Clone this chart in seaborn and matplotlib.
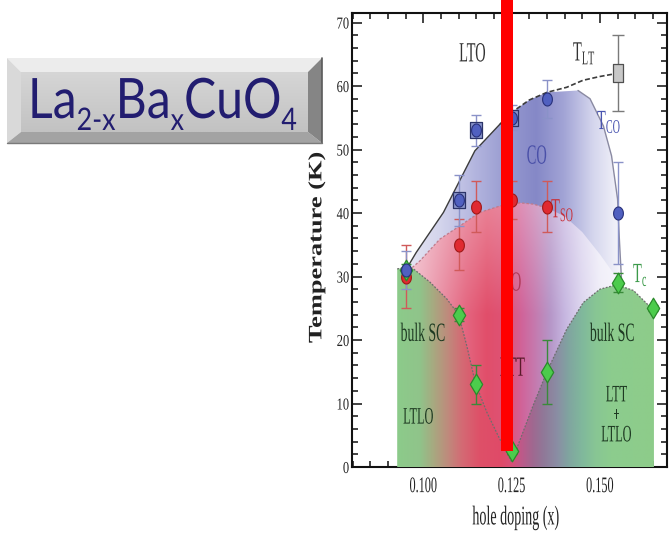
import numpy as np
import matplotlib
matplotlib.use("Agg")
import matplotlib.pyplot as plt
import seaborn as sns
from matplotlib.colors import to_rgb
from matplotlib.patches import Polygon, Rectangle
from matplotlib.path import Path
from matplotlib.transforms import Affine2D
from matplotlib.patheffects import AbstractPathEffect
from matplotlib.ticker import MultipleLocator, FixedLocator

# ---------------- transition temperatures (K) vs hole doping x ----------------
tco_x = [0.095, 0.110, 0.115, 0.125, 0.135, 0.155]
tco_T = [31, 42, 53, 55, 58, 40]
tco_err = [3, 4, 2.5, 2, 3, 8]

tlt_sq_x = [0.110, 0.115, 0.125]
tlt_sq_T = [42, 53, 55]

tlt_x = [0.155]
tlt_T = [62]
tlt_err = [6]

tso_x = [0.095, 0.110, 0.115, 0.125, 0.135]
tso_T = [30, 35, 41, 42, 41]
tso_err = [5, 4, 4, 3, 4]

tc_x = [0.095, 0.110, 0.115, 0.125, 0.135, 0.155, 0.165]
tc_T = [31, 24, 13, 2.5, 15, 29, 25]
tc_err = [1, 1, 3, 0.5, 5, 1.5, 0.5]

# ---------------- phase boundaries ----------------
lt_line_x = [0.095, 0.098, 0.1057, 0.1146, 0.1217, 0.1254, 0.130, 0.135, 0.1406, 0.1452, 0.150, 0.155]
lt_line_y = [31.0, 33.8, 40.1, 49.8, 54.0, 56.0, 57.8, 59.0, 59.8, 60.9, 61.5, 62.0]

co_edge_x = [0.135, 0.1438, 0.1472, 0.151, 0.1533, 0.155, 0.1555, 0.1562]
co_edge_y = [59.3, 59.3, 58.0, 53.7, 49.0, 42.2, 36.0, 28.6]

so_top_x = [0.095, 0.0991, 0.1047, 0.1104, 0.116, 0.1217, 0.1274, 0.1311, 0.135, 0.140, 0.145, 0.150, 0.1545, 0.1562]
so_top_y = [30.5, 32.5, 35.9, 38.0, 40.1, 41.1, 41.6, 41.4, 40.8, 39.5, 37.0, 33.5, 30.0, 28.6]

sc_left_x = [0.0926, 0.0948, 0.0972, 0.1019, 0.1066, 0.110, 0.1123, 0.1148, 0.118, 0.1212, 0.125]
sc_left_y = [31.2, 31.4, 31.2, 29.1, 26.5, 24.0, 19.1, 13.1, 8.6, 4.9, 0.8]
sc_right_x = [0.125, 0.1311, 0.135, 0.1406, 0.1453, 0.150, 0.1548, 0.1595, 0.1648, 0.1653]
sc_right_y = [0.8, 9.7, 15.0, 21.7, 25.9, 28.0, 28.7, 27.8, 24.9, 24.5]

x_ticks = [0.100, 0.125, 0.150]
x_tick_labels = ["0.100", "0.125", "0.150"]

X0, X1 = 0.0798, 0.1690
Y0, Y1 = 0.0, 71.5

# ---------------- style ----------------
sns.set_style("ticks")
plt.rcParams["font.family"] = ["Liberation Serif", "DejaVu Serif"]
plt.rcParams["mathtext.fontset"] = "custom"
plt.rcParams["mathtext.rm"] = "Liberation Serif"
plt.rcParams["mathtext.it"] = "Liberation Serif:italic"
plt.rcParams["mathtext.bf"] = "Liberation Serif:bold"


class Squeeze(AbstractPathEffect):
    """Render text with narrower glyphs (horizontal scale about an anchor)."""

    def __init__(self, sx, anchor="center", x0=None):
        super().__init__()
        self.sx = sx
        self.anchor = anchor
        self.x0 = x0

    def draw_path(self, renderer, gc, tpath, affine, rgbFace=None):
        if self.x0 is not None:
            cx = self.x0
        else:
            ext = tpath.get_extents(affine)
            cx = {"left": ext.x0, "right": ext.x1}.get(self.anchor, 0.5 * (ext.x0 + ext.x1))
        tr = affine + Affine2D().translate(-cx, 0).scale(self.sx, 1.0).translate(cx, 0)
        renderer.draw_path(gc, tpath, tr, rgbFace)


fig = plt.figure(figsize=(6.7, 5.38), dpi=100)
ax = fig.add_axes([352 / 670, 71 / 538, 315 / 670, 454 / 538])


def shaded_region(xs_poly, ys_poly, stops, z, fade=None):
    gx = np.linspace(X0, X1, 700)
    gy = np.linspace(Y0, Y1, 300)
    px = [p for p, _ in stops]
    cols = np.array([to_rgb(c) for _, c in stops])
    row = np.stack([np.interp(gx, px, cols[:, k]) for k in range(3)], axis=-1)
    img = np.repeat(row[None, :, :], len(gy), axis=0)
    if fade is not None:
        w = fade(gy)[:, None, None]
        img = img * (1 - w) + w
    im = ax.imshow(img, extent=[X0, X1, Y0, Y1], origin="lower", aspect="auto",
                   interpolation="bilinear", zorder=z)
    poly = Polygon(np.column_stack([xs_poly, ys_poly]), closed=True,
                   facecolor="none", edgecolor="none", transform=ax.transData)
    ax.add_patch(poly)
    im.set_clip_path(poly)


# charge-order region
co_poly_x = lt_line_x[:8] + co_edge_x[1:] + [0.1562, 0.095]
co_poly_y = lt_line_y[:8] + co_edge_y[1:] + [0.0, 0.0]
shaded_region(co_poly_x, co_poly_y,
              [(0.095, "#e6e6f3"), (0.105, "#d3d4ec"), (0.115, "#b2b4de"), (0.125, "#9497ce"),
               (0.132, "#8588c7"), (0.140, "#a3a5d6"), (0.148, "#d4d5ed"), (0.156, "#f6f6fb")], 1)

# spin-order region
so_poly_x = so_top_x + [0.1562, 0.095]
so_poly_y = so_top_y + [0.0, 0.0]
shaded_region(so_poly_x, so_poly_y,
              [(0.093, "#f2cdd6"), (0.100, "#eeaabb"), (0.106, "#e8889e"), (0.112, "#e46680"),
               (0.118, "#e14e6a"), (0.124, "#dd5478"), (0.128, "#d0649a"), (0.132, "#c47cb0"),
               (0.136, "#b696c8"), (0.140, "#c6b6e0"), (0.145, "#ddd6ef"), (0.150, "#efedf8"),
               (0.157, "#f8f8fc")], 2,
              fade=lambda y: 0.3 * np.clip((y - 24) / 18, 0, 1))

# superconducting domes
sc_poly_x = [0.0926] + sc_left_x + sc_right_x[1:] + [0.1653]
sc_poly_y = [0.0] + sc_left_y + sc_right_y[1:] + [0.0]
shaded_region(sc_poly_x, sc_poly_y,
              [(0.0926, "#8ccb8a"), (0.099, "#90c48a"), (0.103, "#a8a880"), (0.107, "#bf8a7c"),
               (0.111, "#d46a74"), (0.116, "#de5068"), (0.122, "#e04a68"), (0.125, "#d85078"),
               (0.128, "#bc5a8a"), (0.131, "#a06890"), (0.134, "#907898"), (0.138, "#8a8ea4"),
               (0.141, "#80a4a0"), (0.145, "#80b89c"), (0.149, "#88c694"), (0.153, "#8ccc8e"),
               (0.166, "#8ecc8a")], 3)

# boundary lines
ax.plot(lt_line_x[:5], lt_line_y[:5], color="#3c3c3c", lw=1.0, zorder=4)
ax.plot(lt_line_x[4:], lt_line_y[4:], color="#3c3c3c", lw=1.2, ls=(0, (3, 1.5)), zorder=4)
ax.plot(co_edge_x[1:], co_edge_y[1:], color="#8a8aa2", lw=1.0, zorder=4)
ax.plot(so_top_x[:9], so_top_y[:9], color="#c07a8a", lw=0.9, ls=(0, (2, 1.5)), zorder=4)
ax.plot(sc_left_x, sc_left_y, color="#6e6e6e", lw=0.9, ls=(0, (1.5, 1.2)), zorder=4)
ax.plot(sc_right_x, sc_right_y, color="#6e6e6e", lw=0.9, ls=(0, (1.5, 1.2)), zorder=4)

# error bars
ax.errorbar(tso_x, tso_T, yerr=tso_err, fmt="none", ecolor="#d05a5a", elinewidth=1.0, capsize=3.5, zorder=5)
ax.errorbar(tco_x, tco_T, yerr=tco_err, fmt="none", ecolor="#8a92c8", elinewidth=1.0, capsize=3.5, zorder=5)
ax.errorbar(tc_x, tc_T, yerr=tc_err, fmt="none", ecolor="#3a8a3a", elinewidth=1.0, capsize=3.5, zorder=5)
ax.errorbar(tlt_x, tlt_T, yerr=tlt_err, fmt="none", ecolor="#7a7a7a", elinewidth=1.0, capsize=4, zorder=5)

# markers (slightly tall shapes)
theta = np.linspace(0, 2 * np.pi, 41)
ellipse = Path(np.column_stack([np.cos(theta), 1.33 * np.sin(theta)]), closed=True)
tall_sq = Path([(-1, -1.45), (1, -1.45), (1, 1.45), (-1, 1.45), (-1, -1.45)], closed=True)
tall_box = Path([(-1, -1.8), (1, -1.8), (1, 1.8), (-1, 1.8), (-1, -1.8)], closed=True)

sns.scatterplot(x=tlt_sq_x, y=tlt_sq_T, marker=tall_sq, s=135, color="#8a96cc",
                edgecolor="#2c3468", linewidth=0.9, zorder=6, ax=ax, legend=False)
sns.scatterplot(x=tlt_x, y=tlt_T, marker=tall_box, s=180, color="#c8c8c8",
                edgecolor="#505050", linewidth=0.9, zorder=6, ax=ax, legend=False)
sns.scatterplot(x=tso_x, y=tso_T, marker=ellipse, s=88, color="#e02a30",
                edgecolor="#a01818", linewidth=0.8, zorder=6.5, ax=ax, legend=False)
sns.scatterplot(x=tc_x, y=tc_T, marker="d", s=110, color="#4ccc4c",
                edgecolor="#2a8a2a", linewidth=0.9, zorder=7, ax=ax, legend=False)
sns.scatterplot(x=tco_x, y=tco_T, marker=ellipse, s=88, color="#5060c0",
                edgecolor="#28307a", linewidth=0.8, zorder=7.5, ax=ax, legend=False)

# phase labels
SQ = 0.52


def label(x, y, s, color, size=20, ha="center", va="center", weight="normal"):
    t = ax.text(x, y, s, color=color, fontsize=size, ha=ha, va=va, fontweight=weight, zorder=9)
    t.set_path_effects([Squeeze(SQ, anchor=ha)])
    return t


label(0.1139, 64.9, "LTO", "#333333")
label(0.1423, 64.0, r"T$_{\mathrm{LT}}$", "#333333", ha="left", va="baseline")
label(0.1321, 48.8, "CO", "#4a50a8")
label(0.1491, 53.2, r"T$_{\mathrm{CO}}$", "#4a55b0", ha="left", va="baseline")
label(0.1361, 39.3, r"T$_{\mathrm{SO}}$", "#c8323c", ha="left", va="baseline")
label(0.1593, 29.1, r"T$_{\mathrm{c}}$", "#3c9a4a", ha="left", va="baseline")
label(0.1279, 28.8, "SO", "#b03a5a", ha="right")
label(0.1288, 15.4, "LTT", "#5a1a2a", ha="right")
label(0.1000, 20.8, "bulk SC", "#1e3a22", size=19)
label(0.0986, 7.7, "LTLO", "#1e3a22", size=17)
label(0.1536, 20.8, "bulk SC", "#1e3a22", size=19)
label(0.1547, 11.2, "LTT", "#1e3a22", size=17)
label(0.1547, 8.0, "+", "#1e3a22", size=15)
label(0.1547, 4.9, "LTLO", "#1e3a22", size=17)

# marker bar over x ~ 0.124
ax.add_patch(Rectangle((0.1220, 2.5), 0.0034, 80, facecolor="#ff0000", edgecolor="none",
                       zorder=20, clip_on=False))

# axes
ax.set_xlim(X0, X1)
ax.set_ylim(Y0, Y1)
ax.xaxis.set_major_locator(FixedLocator(x_ticks))
ax.set_xticklabels(x_tick_labels)
ax.xaxis.set_minor_locator(MultipleLocator(0.005))
ax.yaxis.set_major_locator(MultipleLocator(10))
ax.yaxis.set_minor_locator(MultipleLocator(2))
ax.tick_params(which="both", direction="in", top=True, right=True, width=1.2, color="#222222",
               labelcolor="#222222")
ax.tick_params(which="major", length=7)
ax.tick_params(which="minor", length=4)
ax.tick_params(axis="y", pad=2, labelsize=12)
ax.tick_params(axis="x", pad=8, labelsize=16)
for sp in ax.spines.values():
    sp.set_linewidth(1.5)
    sp.set_color("#111111")

ax.set_xlabel("hole doping (x)", fontsize=19.5, color="#222222", va="center")
ax.xaxis.set_label_coords((516 - 352) / 315, -0.112)
ax.set_ylabel("Temperature (K)", fontsize=19, fontweight="bold", color="#222222", va="center")
ax.yaxis.set_label_coords((317 - 352) / 315, 0.4835)
ax.xaxis.label.set_path_effects([Squeeze(0.52)])
ax.yaxis.label.set_path_effects([Squeeze(0.72)])

# ---------------- compound name plate ----------------
bg = fig.add_axes([0, 0, 1, 1], zorder=-1)
bg.set_xlim(0, 670)
bg.set_ylim(538, 0)
bg.axis("off")

ox0, ox1, oy0, oy1 = 7, 322, 58, 143
ix0, ix1, iy0, iy1 = 21, 308, 72, 132
bg.add_patch(Polygon([(ox0, oy0), (ox1, oy0), (ix1, iy0), (ix0, iy0)], facecolor="#ececec", edgecolor="none"))
bg.add_patch(Polygon([(ox0, oy0), (ix0, iy0), (ix0, iy1), (ox0, oy1)], facecolor="#d9d9d9", edgecolor="none"))
bg.add_patch(Polygon([(ox0, oy1), (ix0, iy1), (ix1, iy1), (ox1, oy1)], facecolor="#a3a3a3", edgecolor="none"))
bg.add_patch(Polygon([(ox1, oy0), (ox1, oy1), (ix1, iy1), (ix1, iy0)], facecolor="#858585", edgecolor="none"))
face = np.linspace(0, 1, 60)[:, None, None] * (np.array(to_rgb("#c2c2c2")) - np.array(to_rgb("#d6d6d6"))) \
    + np.array(to_rgb("#d6d6d6"))
face = np.repeat(face, 2, axis=1)
bg.imshow(face, extent=[ix0, ix1, iy1, iy0], aspect="auto", interpolation="bilinear")
bg.plot([ox1, ox1], [oy0, oy1], color="#5a5a5a", lw=1.2)
bg.plot([ox0, ox1], [oy1, oy1], color="#7a7a7a", lw=1.0)
bg.set_xlim(0, 670)
bg.set_ylim(538, 0)

pieces = [("La", False), ("2-x", True), ("Ba", False), ("x", True), ("CuO", False), ("4", True)]
renderer = fig.canvas.get_renderer()
base_y, sub_y = 118, 130


def set_formula(main_size, sub_size):
    cur = 0.0
    out = []
    for s, is_sub in pieces:
        t = bg.text(cur, sub_y if is_sub else base_y, s, fontsize=sub_size if is_sub else main_size,
                    family=["Lato", "DejaVu Sans"], color="#221d70", ha="left", va="baseline")
        cur += t.get_window_extent(renderer).width
        out.append(t)
    return out, cur


texts, width = set_formula(43, 24)
natural = 312.0
if width > natural:
    for t in texts:
        t.remove()
    k = natural / width
    texts, width = set_formula(43 * k, 24 * k)
centre = 162.5
shift = centre - width / 2
plate_sq = min(1.0, 269.0 / width)
for t in texts:
    x, y = t.get_position()
    t.set_position((x + shift, y))
    t.set_path_effects([Squeeze(plate_sq, x0=centre)])

fig.canvas.draw()
for t in ax.get_xticklabels():
    t.set_path_effects([Squeeze(0.55, anchor="center")])
for t in ax.get_yticklabels():
    t.set_path_effects([Squeeze(0.75, anchor="right")])

fig.savefig("out.png", dpi=100)
